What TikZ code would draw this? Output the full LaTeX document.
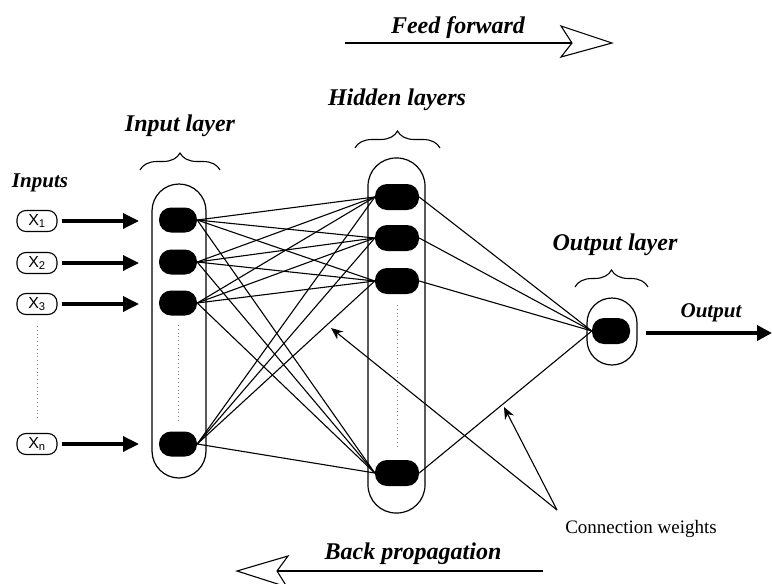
\documentclass[tikz,border=0pt]{standalone}
\usepackage{fontspec}
\setmainfont{Liberation Serif}
\newfontfamily\xsans{Liberation Sans}
\usetikzlibrary{arrows.meta,decorations.pathreplacing}
\begin{document}
\begin{tikzpicture}[x=1pt,y=-1pt,
  inneuron/.style={rectangle, fill=black, minimum width=38pt, minimum height=25pt, rounded corners=12pt, inner sep=0pt},
  hidneuron/.style={rectangle, fill=black, minimum width=44pt, minimum height=26pt, rounded corners=12pt, inner sep=0pt},
  outneuron/.style={rectangle, fill=black, minimum width=38pt, minimum height=26pt, rounded corners=12pt, inner sep=0pt},
  capsule/.style={rectangle, draw, line width=1.2pt, inner sep=0pt},
  xbox/.style={rectangle, draw, line width=1.1pt, rounded corners=9pt, minimum width=40pt, minimum height=21pt, inner sep=0pt, font=\xsans\fontsize{16}{18}\selectfont},
  lbl/.style={inner sep=0pt, font=\fontsize{24}{28}\selectfont\bfseries\itshape},
  slbl/.style={inner sep=0pt, font=\fontsize{21}{24}\selectfont\bfseries\itshape},
  wire/.style={line width=1.1pt},
  thickarrow/.style={line width=3.4pt, -{Triangle[length=16pt,width=15pt]}},
  wtarrow/.style={line width=1.1pt, -{Stealth[length=12pt,width=10pt]}},
  bracex/.style={decorate, decoration={brace, amplitude=17pt}, line width=1.1pt},
  dotcol/.style={line width=1pt, gray, dash pattern=on 0.8pt off 3pt}
]
\useasboundingbox (0,0) rectangle (772,584);

% capsules
\node[capsule, minimum width=54pt, minimum height=294pt, rounded corners=27pt] (incap) at (179,331) {};
\node[capsule, minimum width=57pt, minimum height=355pt, rounded corners=28pt] (hidcap) at (396.5,335.5) {};
\node[capsule, minimum width=50pt, minimum height=67pt, rounded corners=25pt] (outcap) at (612,331.5) {};

% neurons
\node[inneuron] (i1) at (178,220) {};
\node[inneuron] (i2) at (178,262) {};
\node[inneuron] (i3) at (178,303) {};
\node[inneuron] (in) at (178,444) {};
\node[hidneuron] (h1) at (397,197) {};
\node[hidneuron] (h2) at (397,238) {};
\node[hidneuron] (h3) at (397,281) {};
\node[hidneuron] (hn) at (397,473) {};
\node[outneuron] (o) at (611,331) {};

% dotted columns
\draw[dotcol] (178,325) -- (178,422);
\draw[dotcol] (397,305) -- (397,448);
\draw[dotcol] (37,326) -- (37,420);

% input-to-hidden connections
\foreach \a in {i1,i2,i3,in}{
  \foreach \b in {h1,h2,h3,hn}{
    \draw[wire] (\a.east) -- (\b.west);
  }
}
% hidden-to-output connections
\foreach \b in {h1,h2,h3,hn}{
  \draw[wire] (\b.east) -- (o.west);
}

% inputs
\node[xbox] (x1) at (37,221) {X\textsubscript{1}};
\node[xbox] (x2) at (37,263) {X\textsubscript{2}};
\node[xbox] (x3) at (37,304) {X\textsubscript{3}};
\node[xbox] (xn) at (37,444) {X\textsubscript{n}};
\coordinate (a1) at (139,221);
\coordinate (a2) at (139,263);
\coordinate (a3) at (139,304);
\coordinate (an) at (139,444);
\draw[thickarrow] ([xshift=4pt]x1.east) -- (a1);
\draw[thickarrow] ([xshift=4pt]x2.east) -- (a2);
\draw[thickarrow] ([xshift=4pt]x3.east) -- (a3);
\draw[thickarrow] ([xshift=4pt]xn.east) -- (an);

% output arrow
\coordinate (oend) at (772,333);
\draw[line width=3.5pt, -{Triangle[length=15pt,width=15pt]}] ([xshift=8pt]outcap.east |- oend) -- (oend);

% connection weights
\node[inner sep=0pt, font=\fontsize{19}{22}\selectfont] (cw) at (641,529) {Connection weights};
\coordinate (cwp) at (557,510);
\coordinate (t1) at (331,328);
\coordinate (t2) at (504,407);
\draw[wtarrow] (cwp) -- (t1);
\draw[wtarrow] (cwp) -- (t2);

% braces
\draw[bracex] (140,170) -- (220,170);
\draw[bracex] (355,148) -- (440,148);
\draw[bracex] (575,287) -- (648,287);

% labels
\node[lbl] (ll1) at (180,126) {Input layer};
\node[lbl] (ll2) at (397,100) {Hidden layers};
\node[lbl] (ll3) at (615,245) {Output layer};
\node[slbl] (inp) at (40,183) {Inputs};
\node[slbl] (outp) at (711,313) {Output};

% feed forward
\node[lbl] (ff) at (458,28) {Feed forward};
\coordinate (ffs) at (345,43);
\coordinate (ffn) at (572,43);
\draw[line width=1.6pt] (ffs) -- (ffn);
\draw[line width=1.1pt, fill=white] (561,26) -- (612,43) -- (561,57) -- (ffn) -- cycle;

% back propagation
\node[lbl] (bp) at (413,554) {Back propagation};
\coordinate (bps) at (543,571);
\coordinate (bpn) at (277,571);
\draw[line width=1.6pt] (bps) -- (bpn);
\draw[line width=1.1pt, fill=white] (288,556) -- (237,571) -- (287,587) -- (bpn) -- cycle;
\end{tikzpicture}
\end{document}
